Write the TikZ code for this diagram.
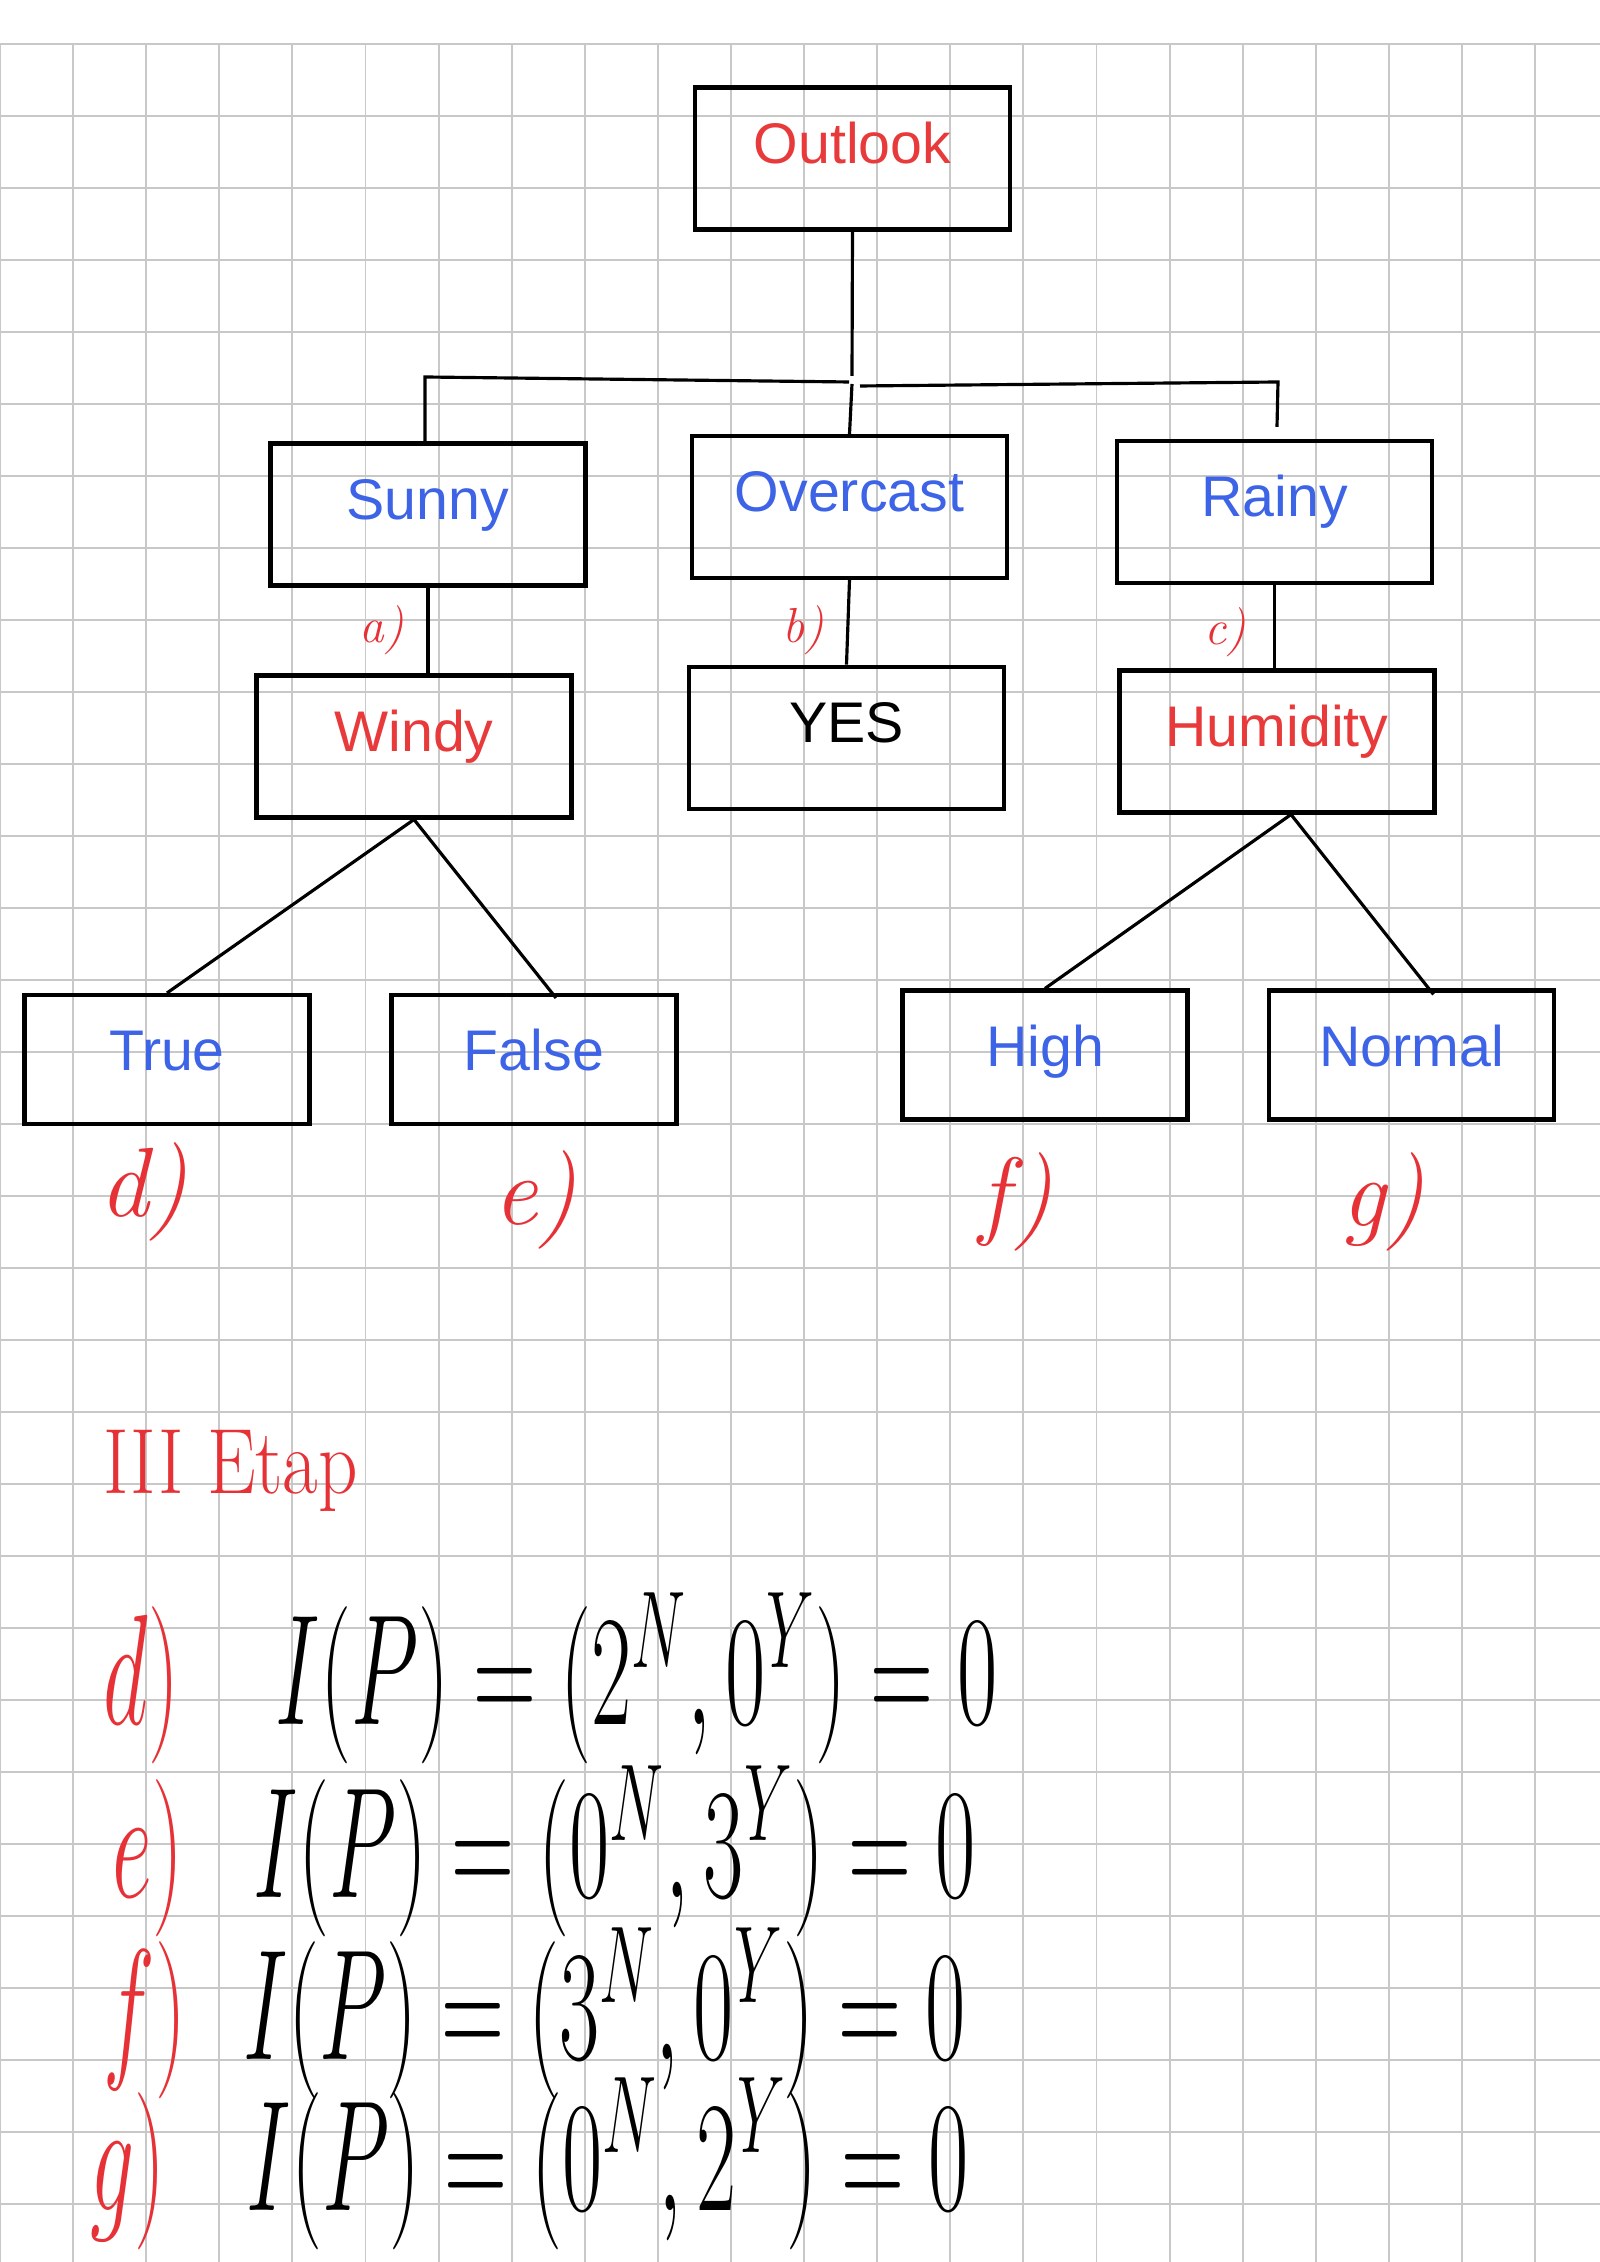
\documentclass[tikz,border=0pt]{standalone}
\usepackage{fontspec}
\usepackage{graphicx}
\newfontfamily\boxfont{Liberation Sans}
\definecolor{attrred}{RGB}{232,58,58}
\definecolor{valblue}{RGB}{61,99,230}
\definecolor{inkred}{RGB}{230,50,55}
\definecolor{gridgray}{RGB}{200,200,200}
\begin{document}
\begin{tikzpicture}[line width=0.9pt,
  big node/.style={rectangle,draw,line width=1.15pt,inner sep=0pt,minimum width=3.15cm,text height=7.6mm,text depth=6.6mm,font=\boxfont\fontsize{16.3}{19}\selectfont},
  small node/.style={big node,minimum width=2.85cm,text depth=5.3mm},
  hand/.style={text=inkred,inner sep=0pt,font=\itshape\fontsize{14}{16}\selectfont},
  eqn/.style={anchor=base west,inner sep=0pt,font=\fontsize{23}{28}\selectfont},
  gridline/.style={draw=gridgray,line width=0.55pt}]
\useasboundingbox (0,0) rectangle (16,22.62);
\fill[white] (0,0) rectangle (16,22.62);
% squared paper
\foreach \i in {0,...,21}
  \draw[gridline] (\i*0.731,0) -- (\i*0.731,22.18);
\foreach \j in {0,...,30}
  \draw[gridline] (0,22.18-\j*0.72) -- (16,22.18-\j*0.72);
\begin{scope}
\node[big node,text=attrred] (outlook) at (8.525,21.035) {Outlook};
\node[big node,text=valblue] (sunny) at (4.28,17.475) {Sunny};
\node[big node,text=valblue] (overcast) at (8.495,17.55) {Overcast};
\node[big node,text=valblue] (rainy) at (12.745,17.50) {Rainy};
\node[big node,text=attrred] (windy) at (4.14,15.155) {Windy};
\node[big node] (yes) at (8.465,15.243) {YES};
\node[big node,text=attrred] (humidity) at (12.77,15.205) {Humidity};
\node[small node,text=valblue] (true) at (1.67,12.025) {True};
\node[small node,text=valblue] (false) at (5.34,12.025) {False};
\node[small node,text=valblue] (high) at (10.45,12.07) {High};
\node[small node,text=valblue] (normal) at (14.115,12.07) {Normal};
\end{scope}
\begin{scope}
\coordinate (stemtop) at (8.52,18.86);
\coordinate (stembot) at (8.52,18.78);
\coordinate (barL) at (8.49,18.80);
\coordinate (barR) at (8.60,18.76);
\draw (outlook.south) -- (stemtop);
\draw (stembot) -- (overcast.north);
\draw (barL) -- (4.25,18.85) -- ([xshift=-0.3mm]sunny.north);
\draw (barR) -- (12.78,18.80) -- ([xshift=0.25mm,yshift=1.2mm]rainy.north);
\draw (sunny.south) -- (sunny.south |- windy.north);
\draw (overcast.south) -- (yes.north);
\draw (rainy.south) -- (rainy.south |- humidity.north);
\draw (windy.south) -- (true.north);
\draw (windy.south) -- ([xshift=2.2mm,yshift=-0.5mm]false.north);
\draw ([xshift=1.4mm]humidity.south) -- (high.north);
\draw ([xshift=1.4mm]humidity.south) -- ([xshift=2.2mm,yshift=-0.6mm]normal.north);
\end{scope}
% branch marks
\node[hand] (la) at (3.82,16.32) {a)};
\node[hand] (lb) at (8.03,16.32) {b)};
\node[hand] (lc) at (12.25,16.30) {c)};
\begin{scope}[every node/.style={hand,font=\itshape\fontsize{28}{30}\selectfont}]
\node (ld) at (1.44,10.70) {d)};
\node (le) at (5.35,10.62) {e)};
\node (lf) at (10.16,10.60) {f)};
\node (lg) at (13.83,10.60) {g)};
\end{scope}
% III Etap
\node[eqn,text=inkred,font=\fontsize{22}{26}\selectfont] (etap) at (1.02,7.68) {\scalebox{1}[1.2]{III Etap}};
\node[eqn,text=inkred] (rd) at (1.02,5.37) {\scalebox{1}[1.8]{$d)$}};
\node[eqn] (eqd) at (2.74,5.37) {\scalebox{1}[1.8]{$I(P) = (2^N, 0^Y) = 0$}};
\node[eqn,text=inkred] (re) at (1.11,3.64) {\scalebox{1}[1.8]{$e)$}};
\node[eqn] (eqe) at (2.52,3.64) {\scalebox{1}[1.8]{$I(P) = (0^N, 3^Y) = 0$}};
\node[eqn,text=inkred] (rf) at (1.02,2.02) {\scalebox{1}[1.8]{$f)$}};
\node[eqn] (eqf) at (2.42,2.02) {\scalebox{1}[1.8]{$I(P) = (3^N, 0^Y) = 0$}};
\node[eqn,text=inkred] (rg) at (0.89,0.52) {\scalebox{1}[1.8]{$g)$}};
\node[eqn] (eqg) at (2.45,0.52) {\scalebox{1}[1.8]{$I(P) = (0^N, 2^Y) = 0$}};
\end{tikzpicture}
\end{document}
